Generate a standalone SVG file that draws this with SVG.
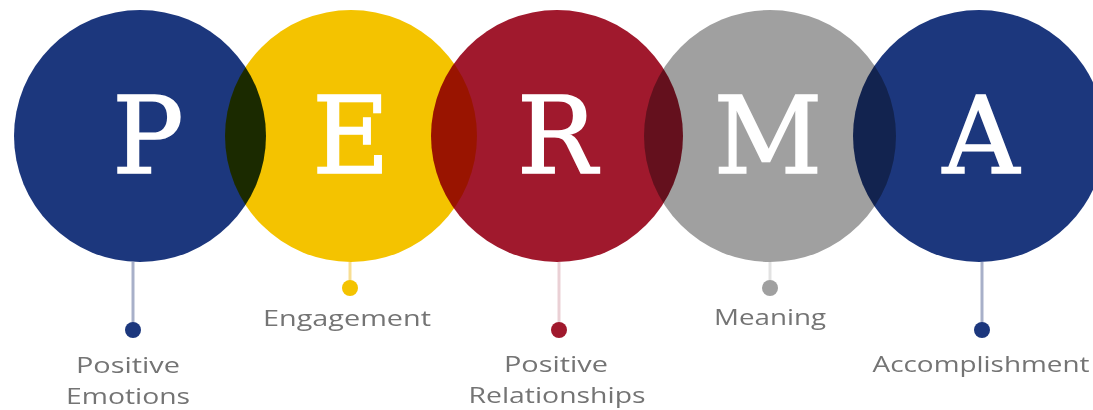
<svg xmlns="http://www.w3.org/2000/svg" width="1093" height="410" viewBox="0 0 1093 410">
  <style>
    .disc { mix-blend-mode: multiply; }
    .letter { font-family: "DejaVu Serif", "Liberation Serif", serif; font-size: 106px; fill: #ffffff; stroke: #ffffff; stroke-width: 1.6; text-anchor: middle; }
    .label { font-family: "Open Sans", "Liberation Sans", sans-serif; font-size: 22px; fill: #747474; text-anchor: middle; }
    .stem { stroke-width: 3; fill: none; }
    .blue { fill: #1c377d; }
    .yellow { fill: #f4c300; }
    .red { fill: #a0192d; }
    .grey { fill: #a0a0a0; }
  </style>
  <rect width="1093" height="410" fill="#ffffff"/>

  <!-- overlapping discs, multiplied where they meet -->
  <g id="discs" style="isolation:isolate">
    <circle id="disc-p" class="disc blue" cx="140" cy="136" r="126"/>
    <circle id="disc-e" class="disc yellow" cx="351" cy="136" r="126"/>
    <circle id="disc-r" class="disc red" cx="557" cy="136" r="126"/>
    <circle id="disc-m" class="disc grey" cx="770" cy="136" r="126"/>
    <circle id="disc-a" class="disc blue" cx="979" cy="136" r="126"/>
  </g>

  <!-- stems and end dots -->
  <g id="connectors">
    <line class="stem" x1="133" y1="262" x2="133" y2="330" stroke="#a8b0c9"/>
    <line class="stem" x1="350" y1="262" x2="350" y2="288" stroke="#f8de92"/>
    <line class="stem" x1="559" y1="262" x2="559" y2="330" stroke="#ead0d5"/>
    <line class="stem" x1="770" y1="262" x2="770" y2="288" stroke="#e2e2e2"/>
    <line class="stem" x1="982" y1="262" x2="982" y2="330" stroke="#a8b0c9"/>
    <circle class="blue" cx="133" cy="330" r="8"/>
    <circle class="yellow" cx="350" cy="288" r="8"/>
    <circle class="red" cx="559" cy="330" r="8"/>
    <circle class="grey" cx="770" cy="288" r="8"/>
    <circle class="blue" cx="982" cy="330" r="8"/>
  </g>

  <g id="node-p">
    <text class="letter" x="148" y="173">P</text>
    <text class="label" x="128" y="373" textLength="104" lengthAdjust="spacingAndGlyphs">Positive</text>
    <text class="label" x="128" y="404" textLength="124" lengthAdjust="spacingAndGlyphs">Emotions</text>
  </g>
  <g id="node-e">
    <text class="letter" x="351" y="173">E</text>
    <text class="label" x="347" y="326" textLength="168" lengthAdjust="spacingAndGlyphs">Engagement</text>
  </g>
  <g id="node-r">
    <text class="letter" x="557" y="173">R</text>
    <text class="label" x="556" y="372" textLength="104" lengthAdjust="spacingAndGlyphs">Positive</text>
    <text class="label" x="557" y="403" textLength="177" lengthAdjust="spacingAndGlyphs">Relationships</text>
  </g>
  <g id="node-m">
    <text class="letter" x="768" y="173">M</text>
    <text class="label" x="770" y="325" textLength="112" lengthAdjust="spacingAndGlyphs">Meaning</text>
  </g>
  <g id="node-a">
    <text class="letter" x="981" y="173">A</text>
    <text class="label" x="981" y="372" textLength="217" lengthAdjust="spacingAndGlyphs">Accomplishment</text>
  </g>
</svg>
